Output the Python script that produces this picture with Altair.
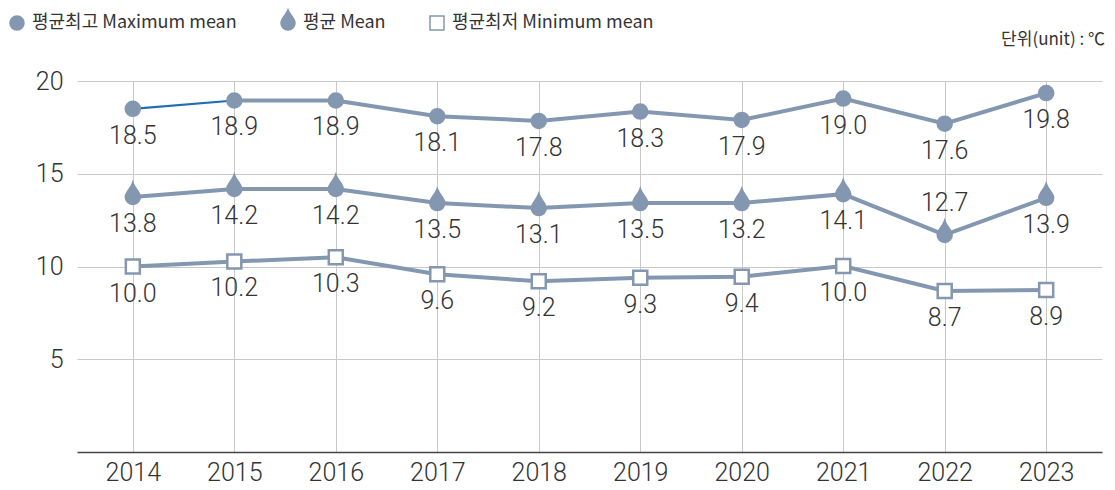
import altair as alt
import pandas as pd

years = [str(y) for y in range(2014, 2024)]
series = ["평균최고 Maximum mean", "평균 Mean", "평균최저 Minimum mean"]
unit_text = "단위(unit) : ℃"

# plotted positions (as drawn in the reference)
max_pos = [18.5, 18.95, 18.95, 18.1, 17.85, 18.35, 17.9, 19.05, 17.7, 19.35]
mean_pos = [13.75, 14.18, 14.18, 13.42, 13.15, 13.42, 13.42, 13.9, 11.7, 13.7]
min_pos = [10.0, 10.27, 10.5, 9.58, 9.2, 9.4, 9.45, 10.03, 8.68, 8.73]

# printed value labels
max_labels = ["18.5", "18.9", "18.9", "18.1", "17.8", "18.3", "17.9", "19.0", "17.6", "19.8"]
mean_labels = ["13.8", "14.2", "14.2", "13.5", "13.1", "13.5", "13.2", "14.1", "12.7", "13.9"]
min_labels = ["10.0", "10.2", "10.3", "9.6", "9.2", "9.3", "9.4", "10.0", "8.7", "8.9"]

# label side relative to point
max_side = ["below"] * 10
mean_side = ["below"] * 8 + ["above", "below"]
min_side = ["below"] * 10

# segment of the maximum line drawn in a thin blue stroke
highlight_years = ["2014", "2015"]

rows = []
for s, pos, labs, sides in zip(series, [max_pos, mean_pos, min_pos],
                               [max_labels, mean_labels, min_labels],
                               [max_side, mean_side, min_side]):
    for yr, v, lab, sd in zip(years, pos, labs, sides):
        hl = (s == series[0] and yr in highlight_years)
        rows.append({"year": yr, "series": s, "value": v, "label": lab, "side": sd,
                     "hl": hl, "gray": not (hl and yr != highlight_years[-1])})
df = pd.DataFrame(rows)

LINE = "#8497b0"
TEXT = "#333333"
NUMFONT = "Roboto, Noto Sans, sans-serif"
FONT = "Noto Sans CJK KR, Noto Sans, sans-serif"
GRID = "#c8c8c8"

circle = "M0.5,0 A0.5,0.5 0 1 1 -0.5,0 A0.5,0.5 0 1 1 0.5,0 Z"
drop = "M0,-0.95 C0.12,-0.6 0.5,-0.3 0.5,0 A0.5,0.5 0 1 1 -0.5,0 C-0.5,-0.3 -0.12,-0.6 0,-0.95 Z"
square = "M-0.5,-0.5 L0.5,-0.5 L0.5,0.5 L-0.5,0.5 Z"

x = alt.X("year:N", sort=years, scale=alt.Scale(type="point", padding=0.55),
          axis=alt.Axis(title=None, labelAngle=0, grid=True, ticks=False,
                        domainColor="#444444", domainWidth=1.5, gridColor=GRID,
                        labelFontSize=25, labelFontWeight=300, labelPadding=8,
                        labelColor=TEXT, labelFont=NUMFONT))
y = alt.Y("value:Q", scale=alt.Scale(domain=[0, 20], nice=False),
          axis=alt.Axis(title=None, values=[5, 10, 15, 20], domain=False, ticks=False,
                        gridColor=GRID, labelPadding=14, labelFontSize=25,
                        labelFontWeight=300, labelColor=TEXT, labelFont=NUMFONT))

legend = alt.Legend(title=None, orient="none", legendX=-75, legendY=-73,
                    direction="horizontal", labelFontSize=18, labelFont=FONT,
                    labelColor=TEXT, symbolSize=784, symbolStrokeWidth=1.5,
                    columnPadding=36, labelOffset=0, labelLimit=400)

base = alt.Chart(df)

lines = base.transform_filter(alt.datum.gray).mark_line(
    color=LINE, strokeWidth=4).encode(x=x, y=y, detail="series:N")

highlight = base.transform_filter(alt.datum.hl).mark_line(
    color="#1f6db5", strokeWidth=2.2).encode(x=x, y=y)

points = base.mark_point(opacity=1, fillOpacity=1).encode(
    x=x, y=y,
    shape=alt.Shape("series:N", scale=alt.Scale(domain=series, range=[circle, drop, square]), legend=legend),
    fill=alt.Fill("series:N", scale=alt.Scale(domain=series, range=[LINE, LINE, "white"]), legend=legend),
    stroke=alt.Stroke("series:N", scale=alt.Scale(domain=series, range=[LINE, LINE, LINE]), legend=legend),
    size=alt.value(784),
    strokeWidth=alt.value(2.5),
)

labels_below = base.transform_filter(alt.datum.side == "below").mark_text(
    dy=27, fontSize=25, fontWeight=300, font=NUMFONT, color=TEXT).encode(x=x, y=y, text="label:N")
labels_above = base.transform_filter(alt.datum.side == "above").mark_text(
    dy=-32, fontSize=25, fontWeight=300, font=NUMFONT, color=TEXT).encode(x=x, y=y, text="label:N")

unit = alt.Chart(pd.DataFrame({"t": [unit_text]})).mark_text(
    align="right", baseline="middle", fontSize=17, font=FONT, color=TEXT
).encode(text="t:N", x=alt.value(1028), y=alt.value(-41))

chart = alt.layer(lines, highlight, points, labels_below, labels_above, unit).properties(
    width=1025, height=371,
    padding={"left": 69, "top": 73, "right": 5, "bottom": 38},
    autosize=alt.AutoSizeParams(type="none"),
).configure_view(stroke=None)

chart.save("out.html", embed_options={"renderer": "svg", "actions": False})
